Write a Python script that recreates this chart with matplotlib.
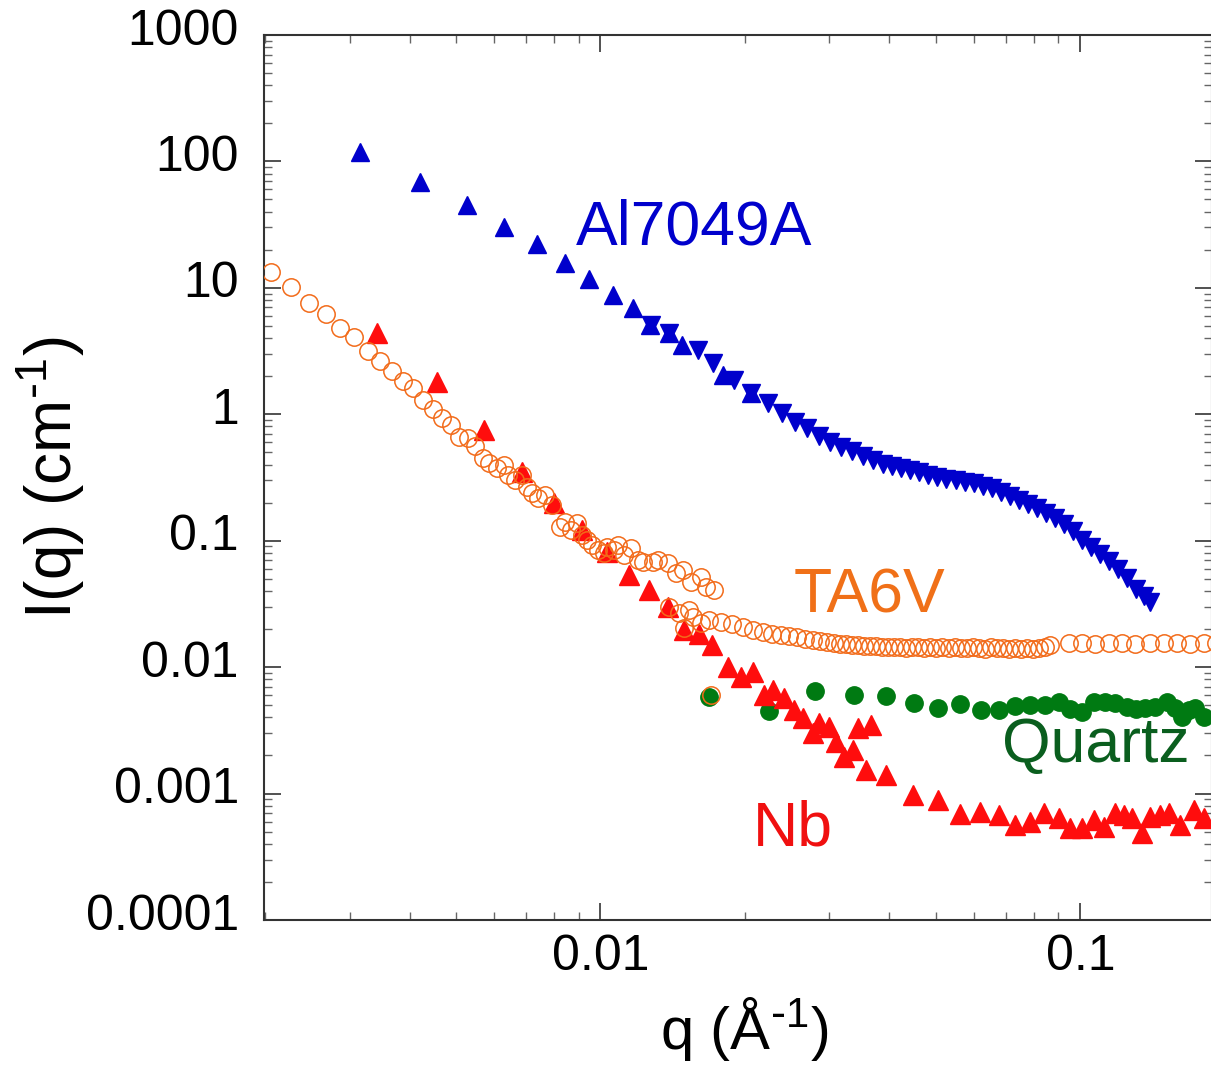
import numpy as np
import matplotlib
matplotlib.use('Agg')
import matplotlib.pyplot as plt
import matplotlib.transforms as mtransforms
from matplotlib.ticker import LogLocator, NullFormatter, FixedLocator, FixedFormatter

plt.rcParams['font.family'] = ['Liberation Sans', 'DejaVu Sans']
plt.rcParams['mathtext.default'] = 'regular'
plt.rcParams['axes.unicode_minus'] = False

# Al7049A : petits angles (triangles vers le haut)
al_up_q = [0.00315, 0.00421, 0.00527, 0.0063, 0.00738, 0.00845, 0.00948, 0.0106,
           0.0117, 0.0127, 0.0139, 0.0148, 0.018, 0.0206]
al_up_I = [118, 68.7, 45, 30, 22.2, 15.7, 11.7, 8.77, 6.92, 5.08, 4.39, 3.53, 2.04, 1.47]

# Al7049A : moyens/grands angles (triangles vers le bas)
al_dn_q = [0.01272, 0.01387, 0.01595, 0.01714, 0.01897, 0.02058, 0.02234, 0.02389,
           0.02544, 0.02695, 0.02855, 0.0301, 0.03174, 0.03346, 0.03528, 0.03703,
           0.03885, 0.04057, 0.04236, 0.04423, 0.04619, 0.04823, 0.05037, 0.0526,
           0.05493, 0.05736, 0.05989, 0.06256, 0.06533, 0.06822, 0.07124, 0.07439,
           0.07768, 0.08112, 0.08471, 0.08846, 0.09237, 0.09645, 0.1007, 0.1052,
           0.1099, 0.1147, 0.1198, 0.1251, 0.1306, 0.1357, 0.1397]
al_dn_I = [5.08, 4.39, 3.22, 2.54, 1.865, 1.472, 1.226, 1.022, 0.868, 0.778, 0.672,
           0.603, 0.550, 0.512, 0.467, 0.434, 0.404, 0.389, 0.375, 0.362, 0.349,
           0.330, 0.319, 0.307, 0.302, 0.291, 0.286, 0.270, 0.261, 0.242, 0.225,
           0.210, 0.195, 0.181, 0.165, 0.151, 0.135, 0.119, 0.101, 0.0890, 0.0783,
           0.0690, 0.0596, 0.0506, 0.0414, 0.0365, 0.0327]

# TA6V : trois configurations
ta_a_q = [0.00206, 0.00227, 0.00247, 0.00268, 0.00286, 0.00306, 0.00327, 0.00347,
          0.00368, 0.00388, 0.00407, 0.00427, 0.00448, 0.00468, 0.00488, 0.00507,
          0.0053, 0.00548, 0.00569, 0.00586, 0.00609, 0.0063, 0.00642, 0.00665,
          0.00687, 0.00704, 0.00721, 0.00742, 0.00768, 0.00794, 0.00825, 0.00845,
          0.00866, 0.00895, 0.00917, 0.00939, 0.00962, 0.00986, 0.01015, 0.01034,
          0.01065, 0.0109, 0.01117, 0.01155, 0.01195, 0.01224, 0.01284, 0.01315,
          0.0138, 0.01435, 0.01484, 0.01542, 0.01618, 0.01657, 0.01722]
ta_a_I = [13.3, 10.15, 7.58, 6.20, 4.81, 4.08, 3.16, 2.64, 2.20, 1.83, 1.61, 1.295,
          1.10, 0.933, 0.821, 0.660, 0.648, 0.560, 0.450, 0.411, 0.375, 0.396, 0.330,
          0.302, 0.330, 0.266, 0.238, 0.217, 0.230, 0.191, 0.128, 0.140, 0.121, 0.138,
          0.111, 0.101, 0.0923, 0.0842, 0.0798, 0.0890, 0.0842, 0.0923, 0.0769,
          0.0874, 0.0702, 0.0677, 0.0677, 0.0702, 0.0665, 0.0554, 0.0585, 0.0470,
          0.0515, 0.0429, 0.0407]

ta_b_q = [0.01698, 0.01387, 0.01456, 0.01491, 0.01527, 0.01557, 0.01618, 0.01681,
          0.01781, 0.01878, 0.01981, 0.02078, 0.02181, 0.02278, 0.02378, 0.02471,
          0.02568, 0.02669, 0.02774, 0.02869, 0.02968, 0.0307, 0.03159, 0.03251,
          0.03346, 0.03444, 0.03545, 0.03649, 0.03756, 0.03866, 0.0398, 0.04096,
          0.04216, 0.0434, 0.04467, 0.04598, 0.04732, 0.04871, 0.05013, 0.0516,
          0.05311, 0.05467, 0.05627, 0.05792, 0.05962, 0.06136, 0.06316, 0.06501,
          0.06691, 0.06887, 0.07089, 0.07297, 0.07511, 0.07731, 0.07957, 0.0819,
          0.0843, 0.08636]
ta_b_I = [0.0060, 0.0298, 0.0267, 0.0204, 0.0282, 0.0249, 0.0223, 0.0235, 0.0227,
          0.0219, 0.0207, 0.0196, 0.0189, 0.0182, 0.0179, 0.0176, 0.0173, 0.0167,
          0.0164, 0.0161, 0.0158, 0.0155, 0.0152, 0.0152, 0.0149, 0.0149, 0.0147,
          0.0147, 0.0146, 0.0144, 0.0145, 0.0143, 0.0145, 0.0142, 0.0144, 0.0143,
          0.0141, 0.0144, 0.0142, 0.0143, 0.0141, 0.0144, 0.0142, 0.0141, 0.0143,
          0.0142, 0.0140, 0.0143, 0.0141, 0.0142, 0.0139, 0.0141, 0.0140, 0.0142,
          0.0139, 0.0141, 0.0144, 0.0150]

ta_c_q = [0.0946, 0.1007, 0.1072, 0.1147, 0.1221, 0.130, 0.1397, 0.1494, 0.1591,
          0.1694, 0.1812, 0.192]
ta_c_I = [0.0154, 0.0155, 0.0153, 0.0154, 0.0155, 0.0153, 0.0154, 0.0155, 0.0154,
          0.0153, 0.0155, 0.0154]

# Quartz
qz_q = [0.01681, 0.02245, 0.02801, 0.03378, 0.03941, 0.0451, 0.05062, 0.05601,
        0.06196, 0.06756, 0.07297, 0.07843, 0.0843, 0.09018, 0.09508, 0.1007,
        0.1067, 0.1125, 0.1181, 0.1251, 0.1306, 0.1364, 0.1431, 0.1516, 0.1576,
        0.163, 0.1686, 0.1735, 0.1812]
qz_I = [0.00579, 0.00449, 0.00646, 0.00600, 0.00589, 0.00519, 0.00474, 0.00510,
        0.00457, 0.00457, 0.00491, 0.00500, 0.00500, 0.00528, 0.00465, 0.00441,
        0.00528, 0.00528, 0.00519, 0.00483, 0.00465, 0.00474, 0.00483, 0.00528,
        0.00474, 0.00402, 0.00457, 0.00474, 0.00402]

# Nb
nb_q = [0.00342, 0.00456, 0.00572, 0.00687, 0.00801, 0.00913, 0.0103, 0.01144,
        0.0126, 0.0138, 0.01491, 0.01603, 0.01706, 0.01842, 0.01962, 0.02078,
        0.02191, 0.02288, 0.02413, 0.02532, 0.02643, 0.02774, 0.02855, 0.02995,
        0.03099, 0.03221, 0.03362, 0.03444, 0.03666, 0.03579, 0.03941, 0.04487,
        0.05062, 0.05601, 0.06166, 0.06756, 0.07297, 0.07843, 0.0839, 0.09018,
        0.09508, 0.1007, 0.1067, 0.112, 0.1181, 0.1233, 0.1281, 0.1344, 0.1397,
        0.1466, 0.1531, 0.1614, 0.1727, 0.1812]
nb_I = [4.39, 1.80, 0.750, 0.349, 0.198, 0.121, 0.0812, 0.0534, 0.0407, 0.0298,
        0.0196, 0.0182, 0.0149, 0.0100, 0.00834, 0.00913, 0.00600, 0.00658, 0.00568,
        0.00457, 0.00395, 0.00300, 0.00361, 0.00335, 0.00255, 0.00194, 0.00220,
        0.00329, 0.00348, 0.00153, 0.00140, 0.000971, 0.000886, 0.000687, 0.000713,
        0.000675, 0.000562, 0.000594, 0.000700, 0.000639, 0.000532, 0.000532,
        0.000616, 0.000542, 0.000700, 0.000675, 0.000639, 0.000486, 0.000651,
        0.000675, 0.000700, 0.000562, 0.000739, 0.000639]

blue = '#0000cc'
orange = '#f26b1a'
red = '#ff0d0d'
green = '#007a12'

fig = plt.figure(figsize=(12.11, 10.79), dpi=100)
ax = fig.add_axes([0.218, 0.1474, 0.7828, 0.8202])

ax.plot(qz_q, qz_I, 'o', ms=12.5, color=green, mec=green, zorder=2)
ax.plot(nb_q, nb_I, '^', ms=14, color=red, mec=red, zorder=3)
ax.plot(al_dn_q, al_dn_I, 'v', ms=12.5, color=blue, mec=blue, zorder=3)
ax.plot(al_up_q, al_up_I, '^', ms=12.5, color=blue, mec=blue, zorder=3)
for qq, ii in [(ta_a_q, ta_a_I), (ta_b_q, ta_b_I), (ta_c_q, ta_c_I)]:
    ax.plot(qq, ii, 'o', ms=12.5, mfc='none', mec=orange, mew=1.1, zorder=4)

ax.set_xscale('log')
ax.set_yscale('log')
ax.set_xlim(0.00199, 0.188)
ax.set_ylim(1e-4, 1e3)

ax.yaxis.set_major_locator(FixedLocator([1e-4, 1e-3, 1e-2, 1e-1, 1, 10, 100, 1000]))
ax.yaxis.set_major_formatter(FixedFormatter(['0.0001', '0.001', '0.01', '0.1', '1', '10', '100', '1000']))
ax.yaxis.set_minor_locator(LogLocator(base=10, subs=np.arange(2, 10), numticks=20))
ax.yaxis.set_minor_formatter(NullFormatter())
ax.xaxis.set_major_locator(FixedLocator([0.01, 0.1]))
ax.xaxis.set_major_formatter(FixedFormatter(['0.01', '0.1']))
ax.xaxis.set_minor_locator(LogLocator(base=10, subs=np.arange(2, 10), numticks=20))
ax.xaxis.set_minor_formatter(NullFormatter())

ax.tick_params(which='both', direction='in', top=True, right=True, colors='#333333')
ax.tick_params(which='major', length=12, width=1.2, labelsize=36, labelcolor='black')
ax.tick_params(which='minor', length=6, width=1.0, color='#666666')
ax.tick_params(axis='y', which='major', pad=18)
ax.tick_params(axis='x', which='major', pad=10)
for s in ax.spines.values():
    s.set_linewidth(1.5)
    s.set_color('#333333')

# les etiquettes de l'axe y sont un peu au-dessus des graduations
shift = mtransforms.ScaledTranslation(0, 6 / 72, fig.dpi_scale_trans)
for lab in ax.get_yticklabels():
    lab.set_transform(lab.get_transform() + shift)

# tiret simple dans l'exposant, comme sur l'original
ax.set_xlabel(r'q (Å$^{\text{-}1}$)', fontsize=43)
ax.set_ylabel(r'I(q) (cm$^{\text{-}1}$)', fontsize=46)
ax.xaxis.set_label_coords(0.506, -0.085)
ax.yaxis.set_label_coords(-0.187, 0.5)

ax.text(0.00887, 22.2, 'Al7049A', color=blue, fontsize=45, va='baseline')
ax.text(0.0253, 0.0272, 'TA6V', color='#f07018', fontsize=45, va='baseline')
ax.text(0.0686, 0.00177, 'Quartz', color='#0a5e1e', fontsize=45, va='baseline')
ax.text(0.0208, 0.000391, 'Nb', color='#f01010', fontsize=45, va='baseline')

fig.savefig('out.png', dpi=100)
